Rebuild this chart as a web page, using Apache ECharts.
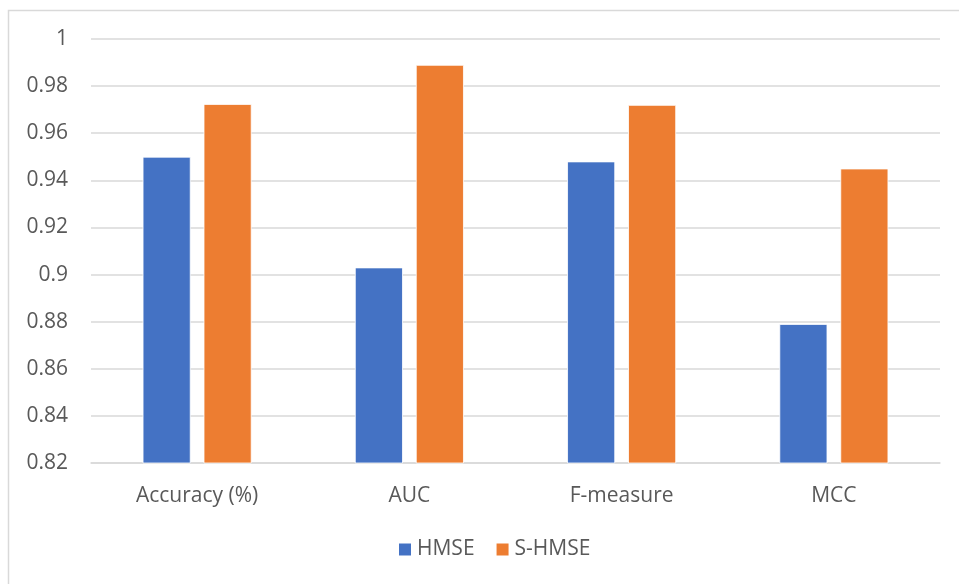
<!DOCTYPE html>
<html>
<head>
<meta charset="utf-8">
<script src="https://cdn.jsdelivr.net/npm/echarts@6/dist/echarts.min.js"></script>
<style>
  html, body { margin: 0; padding: 0; background: #fff; }
  #chart { width: 959px; height: 584px; }
</style>
</head>
<body>
<div id="chart"></div>
<script>
// Metrics compared for the two models
const categories = ['Accuracy (%)', 'AUC', 'F-measure', 'MCC'];
const hmse = [0.950, 0.903, 0.948, 0.879];
const sHmse = [0.9724, 0.989, 0.972, 0.945];
const seriesNames = ['HMSE', 'S-HMSE'];
const seriesColors = ['#4472C4', '#ED7D31'];

const textColor = '#595959';
const fontFamily = '"Open Sans", "Liberation Sans", sans-serif';

const chart = echarts.init(document.getElementById('chart'), null, { renderer: 'canvas' });

chart.setOption({
  animation: false,
  backgroundColor: '#ffffff',
  textStyle: { fontFamily: fontFamily, color: textColor },
  graphic: [{
    type: 'rect',
    shape: { x: 8.5, y: 10.5, width: 960, height: 600 },
    style: { fill: 'none', stroke: '#d9d9d9', lineWidth: 1.5 },
    silent: true,
    z: -1
  }],
  grid: { left: 91, right: 19, top: 39, bottom: 121, containLabel: false },
  legend: {
    data: seriesNames,
    bottom: 19,
    left: 392,
    itemWidth: 14,
    itemHeight: 14,
    itemGap: 20,
    icon: 'rect',
    textStyle: { fontSize: 21, color: textColor, fontFamily: fontFamily }
  },
  xAxis: {
    type: 'category',
    data: categories,
    axisTick: { show: false },
    axisLine: { lineStyle: { color: '#d9d9d9', width: 1.5 } },
    axisLabel: { fontSize: 21, color: textColor, margin: 23, fontFamily: fontFamily }
  },
  yAxis: {
    type: 'value',
    min: 0.82,
    max: 1,
    interval: 0.02,
    axisLine: { show: false },
    axisTick: { show: false },
    splitLine: { lineStyle: { color: '#d9d9d9', width: 1.5 } },
    axisLabel: {
      fontSize: 21,
      color: textColor,
      margin: 23,
      fontFamily: fontFamily,
      formatter: v => String(parseFloat(v.toFixed(2)))
    }
  },
  series: [
    {
      name: seriesNames[0],
      type: 'bar',
      data: hmse,
      barWidth: 48,
      barGap: '27%',
      itemStyle: { color: seriesColors[0], borderColor: '#ffffff', borderWidth: 0.8 }
    },
    {
      name: seriesNames[1],
      type: 'bar',
      data: sHmse,
      barWidth: 48,
      itemStyle: { color: seriesColors[1], borderColor: '#ffffff', borderWidth: 0.8 }
    }
  ]
});
</script>
</body>
</html>
